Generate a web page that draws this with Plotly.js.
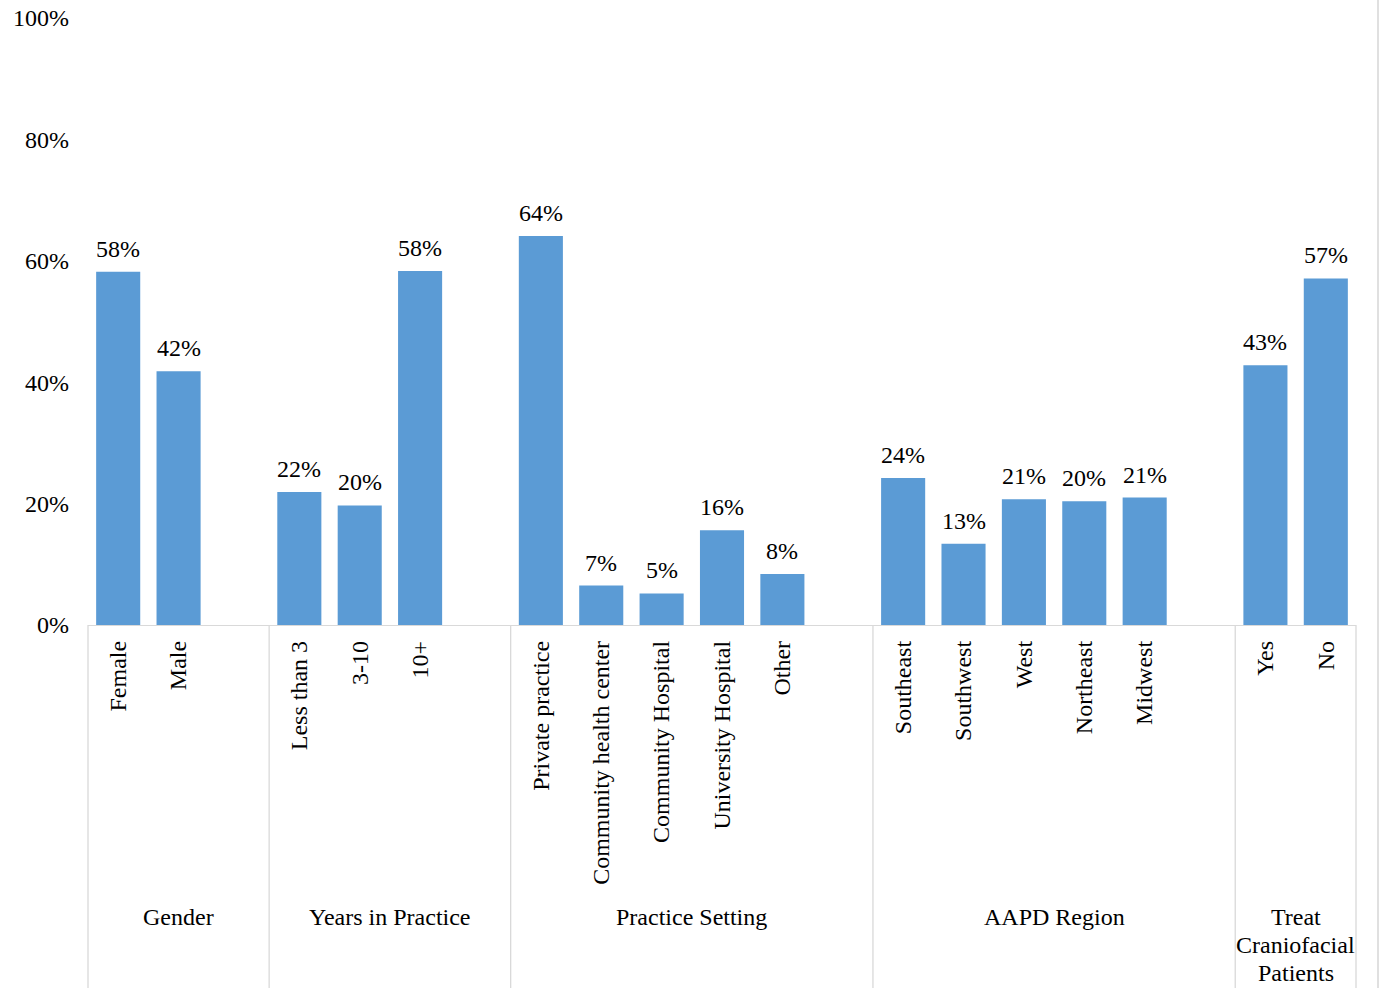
<!DOCTYPE html>
<html>
<head>
<meta charset="utf-8">
<script src="https://cdn.plot.ly/plotly-3.0.1.min.js"></script>
<style>html,body{margin:0;padding:0;background:#fff;}#chart{width:1385px;height:988px;}</style>
</head>
<body>
<div id="chart"></div>
<script>
// ---- data ----
const groupNames = ["Gender", "Years in Practice", "Practice Setting", "AAPD Region", "Treat<br>Craniofacial<br>Patients"];
const genderCats = ["Female", "Male"];
const genderVals = [58.2, 41.8];
const yearsCats = ["Less than 3", "3-10", "10+"];
const yearsVals = [21.9, 19.7, 58.3];
const settingCats = ["Private practice", "Community health center", "Community Hospital", "University Hospital", "Other"];
const settingVals = [64.1, 6.5, 5.2, 15.6, 8.4];
const regionCats = ["Southeast", "Southwest", "West", "Northeast", "Midwest"];
const regionVals = [24.2, 13.4, 20.7, 20.4, 21.0];
const treatCats = ["Yes", "No"];
const treatVals = [42.8, 57.1];
const yTicks = [0, 20, 40, 60, 80, 100];
const yTickText = ["0%", "20%", "40%", "60%", "80%", "100%"];

const groupCats = [genderCats, yearsCats, settingCats, regionCats, treatCats];
const groupVals = [genderVals, yearsVals, settingVals, regionVals, treatVals];

// ---- build slot positions (each group followed by an empty slot, except last) ----
let xs = [], ys = [], labels = [], txt = [];
let boundaries = [-0.5];
let groupCenters = [];
let slot = 0;
groupCats.forEach((cats, gi) => {
  const start = slot - 0.5;
  cats.forEach((c, i) => {
    xs.push(slot); ys.push(groupVals[gi][i]); labels.push(c);
    txt.push(Math.round(groupVals[gi][i]) + "%");
    slot++;
  });
  if (gi < groupCats.length - 1) slot++; // gap slot
  const end = slot - 0.5;
  boundaries.push(end);
  groupCenters.push((start + end) / 2);
});
const nSlots = slot;
const xMin = -0.5, xMax = nSlots - 0.5;
const toPaper = v => (v - xMin) / (xMax - xMin);

const font = "Liberation Serif, Times New Roman, serif";
const plotH = 988 - 18 - 363;
const bottomPaper = -363 / plotH;

const shapes = boundaries.map(b => ({
  type: "line", xref: "paper", yref: "paper",
  x0: toPaper(b), x1: toPaper(b), y0: 0, y1: bottomPaper - 0.01,
  line: {color: "#d9d9d9", width: 1.3}
}));
shapes.push({type: "line", xref: "paper", yref: "paper",
  x0: (1378 - 88) / 1268, x1: (1378 - 88) / 1268, y0: bottomPaper - 0.01, y1: 1 + 20 / plotH,
  line: {color: "#d0d0d0", width: 1.3}});

const annotations = [];
groupNames.forEach((g, i) => {
  const lines = g.split("<br>");
  const centerPx = lines.length > 1 ? 945 : 917;
  lines.forEach((ln, k) => {
    const py = centerPx + (k - (lines.length - 1) / 2) * 28;
    annotations.push({
      xref: "paper", yref: "paper", x: toPaper(groupCenters[i]),
      y: (625 - py) / plotH,
      text: ln, showarrow: false, xanchor: "center", yanchor: "middle",
      font: {family: font, size: 24, color: "#000"}
    });
  });
});
// value labels above bars
xs.forEach((x, i) => {
  annotations.push({
    xref: "x", yref: "y", x: x, y: ys[i], text: txt[i], showarrow: false,
    xanchor: "center", yanchor: "bottom", yshift: 8,
    font: {family: font, size: 24, color: "#000"}
  });
});

Plotly.newPlot("chart", [{
  type: "bar", x: xs, y: ys, width: 0.73,
  marker: {color: "#5b9bd5"},
  hoverinfo: "skip"
}], {
  width: 1385, height: 988,
  margin: {l: 88, r: 29, t: 18, b: 363},
  paper_bgcolor: "#fff", plot_bgcolor: "#fff",
  showlegend: false,
  font: {family: font, size: 24, color: "#000"},
  xaxis: {
    range: [xMin, xMax], tickmode: "array", tickvals: xs, ticktext: labels,
    tickangle: -90, showgrid: false, zeroline: false,
    showline: true, linecolor: "#d9d9d9", linewidth: 1.3,
    ticks: "", ticklabelstandoff: 5,
    tickfont: {family: font, size: 24, color: "#000"}
  },
  yaxis: {
    range: [0, 100], tickmode: "array", tickvals: yTicks, ticktext: yTickText,
    showgrid: false, zeroline: false, showline: false, ticks: "",
    ticklabelstandoff: 18,
    tickfont: {family: font, size: 24, color: "#000"}
  },
  shapes: shapes,
  annotations: annotations
}, {displayModeBar: false, staticPlot: true});
</script>
</body>
</html>
